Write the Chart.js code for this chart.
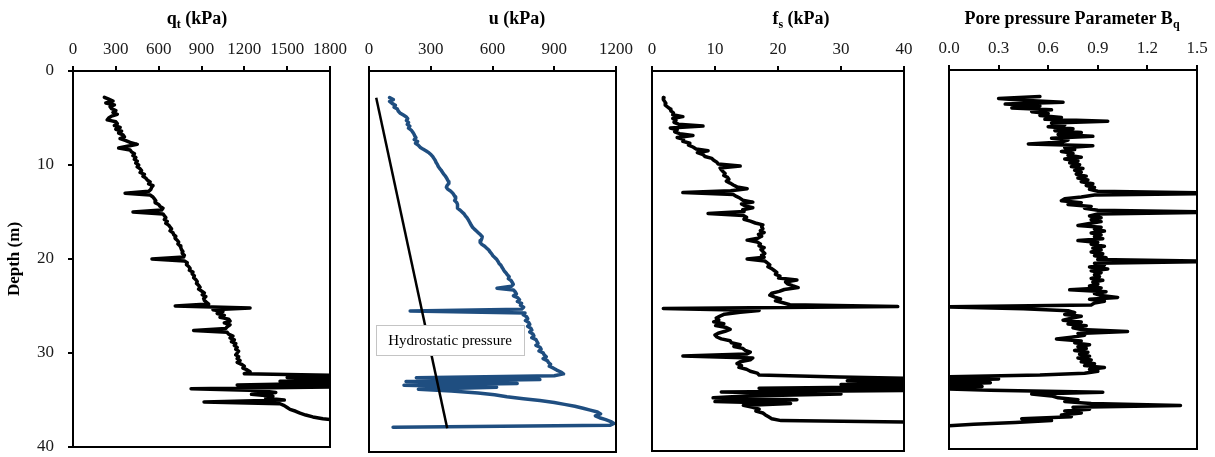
<!DOCTYPE html>
<html>
<head>
<meta charset="utf-8">
<title>CPT profiles</title>
<script src="https://cdn.jsdelivr.net/npm/chart.js@4.4.1/dist/chart.umd.min.js"></script>
<style>
  html, body { margin: 0; padding: 0; background: #fff; }
  #wrap { position: relative; width: 1215px; height: 457px; overflow: hidden; }
  #wrap canvas { position: absolute; left: 0; top: 0; }
</style>
</head>
<body>
<div id="wrap">
  <canvas id="cQt" width="1215" height="457"></canvas>
  <canvas id="cU" width="1215" height="457"></canvas>
  <canvas id="cFs" width="1215" height="457"></canvas>
  <canvas id="cBq" width="1215" height="457"></canvas>
</div>
<script>
// Sounding depths (m), one reading every 0.2 m
const depth = [
  2.8, 3.0, 3.2, 3.4, 3.6, 3.8, 4.0, 4.2, 4.4, 4.6,
  4.8, 5.0, 5.2, 5.4, 5.6, 5.8, 6.0, 6.2, 6.4, 6.6,
  6.8, 7.0, 7.2, 7.4, 7.6, 7.8, 8.0, 8.2, 8.4, 8.6,
  8.8, 9.0, 9.2, 9.4, 9.6, 9.8, 10.0, 10.2, 10.4, 10.6,
  10.8, 11.0, 11.2, 11.4, 11.6, 11.8, 12.0, 12.2, 12.4, 12.6,
  12.8, 13.0, 13.2, 13.4, 13.6, 13.8, 14.0, 14.2, 14.4, 14.6,
  14.8, 15.0, 15.2, 15.4, 15.6, 15.8, 16.0, 16.2, 16.4, 16.6,
  16.8, 17.0, 17.2, 17.4, 17.6, 17.8, 18.0, 18.2, 18.4, 18.6,
  18.8, 19.0, 19.2, 19.4, 19.6, 19.8, 20.0, 20.2, 20.4, 20.6,
  20.8, 21.0, 21.2, 21.4, 21.6, 21.8, 22.0, 22.2, 22.4, 22.6,
  22.8, 23.0, 23.2, 23.4, 23.6, 23.8, 24.0, 24.2, 24.4, 24.6,
  24.8, 25.0, 25.2, 25.4, 25.6, 25.8, 26.0, 26.2, 26.4, 26.6,
  26.8, 27.0, 27.2, 27.4, 27.6, 27.8, 28.0, 28.2, 28.4, 28.6,
  28.8, 29.0, 29.2, 29.4, 29.6, 29.8, 30.0, 30.2, 30.4, 30.6,
  30.8, 31.0, 31.2, 31.4, 31.6, 31.8, 32.0, 32.2, 32.4, 32.6,
  32.8, 33.0, 33.2, 33.4, 33.6, 33.8, 34.0, 34.2, 34.4, 34.6,
  34.8, 35.0, 35.2, 35.4, 35.6, 35.8, 36.0, 36.2, 36.4, 36.6,
  36.8, 37.0, 37.2, 37.4, 37.6, 37.8
];

// Corrected cone resistance qt (kPa)
const qt = [
  220, 250, 280, 230, 290, 260, 270, 300, 280, 310,
  270, 250, 240, 300, 310, 290, 330, 300, 340, 320,
  350, 360, 330, 370, 400, 450, 380, 320, 400, 410,
  430, 420, 440, 430, 450, 440, 460, 450, 470, 480,
  470, 500, 490, 510, 520, 540, 530, 560, 550, 545,
  530, 365, 540, 560, 570, 580, 575, 600, 610, 630,
  620, 420, 630, 640, 650, 640, 660, 650, 670, 680,
  690, 680, 700, 705, 720, 715, 730, 740, 735, 750,
  755, 760, 770, 765, 780, 775, 553, 780, 800, 795,
  810, 820, 815, 840, 835, 850, 845, 860, 870, 865,
  880, 890, 880, 900, 920, 905, 930, 915, 920, 935,
  950, 716, 1240, 980, 1050, 1010, 1060, 1030, 1090, 1100,
  1060, 1100, 1080, 1070, 845, 1080, 1090, 1120, 1100, 1130,
  1110, 1140, 1130, 1150, 1140, 1160, 1150, 1140, 1160, 1150,
  1170, 1150, 1180, 1200, 1190, 1220, 1240, 1200, 1900, 1500,
  1900, 1450, 1900, 1150, 1900, 827, 1300, 1420, 1250, 1400,
  1350, 1480, 918, 1450, 1480, 1500, 1520, 1560, 1590, 1630,
  1680, 1750, 1900, null, null, null
];

// Pore water pressure u (kPa)
const u = [
  100, 118, 100, 112, 128, 122, 138, 142, 150, 165,
  180, 188, 182, 192, 186, 198, 192, 205, 212, 218,
  222, 228, 220, 236, 226, 240, 248, 262, 278, 292,
  302, 310, 316, 322, 326, 332, 336, 342, 350, 356,
  362, 370, 376, 381, 386, 388, 380, 376, 382, 396,
  406, 412, 418, 421, 416, 426, 430, 428, 432, 442,
  452, 462, 468, 476, 482, 487, 492, 497, 503, 512,
  522, 532, 542, 550, 548, 544, 540, 548, 562, 572,
  582, 588, 596, 602, 612, 621, 627, 632, 641, 646,
  652, 657, 666, 672, 681, 677, 690, 696, 701, 692,
  622, 702, 711, 716, 702, 722, 731, 721, 741, 736,
  751, 742, 200, 758, 750, 766, 771, 760, 776, 781,
  771, 786, 791, 781, 796, 801, 791, 811, 816, 821,
  811, 831, 836, 826, 846, 851, 861, 846, 866, 872,
  882, 876, 896, 912, 932, 945, 900, 230, 830, 180,
  720, 170, 620, 240, 400, 530, 610, 670, 750, 830,
  900, 950, 1000, 1040, 1075, 1110, 1125, 1100, 1120, 1150,
  1175, 1190, 1170, 117, null, null
];

// Hydrostatic pressure line (kPa) between two depths
const hydroDepth = [2.8, 37.5];
const hydroU = [35, 380];

// Sleeve friction fs (kPa)
const fs = [
  1.9, 1.8, 2.0, 2.2, 2.1, 2.5, 2.9, 3.0, 3.4, 3.3,
  4.9, 3.3, 3.8, 3.5, 4.2, 8.1, 2.9, 4.0, 3.6, 4.4,
  6.5, 4.0, 5.0, 4.9, 6.0, 5.8, 6.5, 7.0, 8.9, 7.2,
  8.1, 8.4, 9.5, 9.8, 10.3, 10.5, 14.0, 10.8, 11.0, 11.3,
  11.6, 11.4, 12.0, 12.2, 11.8, 12.4, 12.9, 13.5, 15.1, 12.5,
  4.9, 12.9, 13.4, 14.0, 14.4, 16.0, 14.2, 14.8, 16.0, 14.4,
  14.6, 8.9, 14.5, 15.0, 14.6, 15.6, 16.4, 17.6, 17.4, 17.6,
  17.2, 17.8, 16.9, 17.4, 16.8, 15.1, 16.7, 17.2, 17.0, 17.8,
  17.3, 17.6, 17.9, 17.4, 17.8, 15.1, 17.9, 18.3, 18.7, 18.4,
  19.0, 19.4, 19.8, 19.6, 20.3, 20.1, 23.0, 21.2, 21.5, 22.3,
  23.2, 21.0, 20.2, 19.0, 18.7, 19.5, 20.4, 19.6, 20.8, 21.9,
  39.0, 1.8, 17.0, 14.0, 11.5, 10.8, 10.2, 10.6, 9.8, 11.4,
  10.1, 11.8, 12.4, 11.6, 10.5, 10.0, 10.3, 11.0, 12.4, 12.6,
  14.0, 13.0, 14.4, 14.8, 15.6, 15.0, 4.9, 16.0, 15.6, 14.0,
  13.5, 14.2, 13.8, 15.0, 15.6, 16.7, 17.0, 29.8, 45.0, 31.0,
  45.0, 30.0, 45.0, 17.0, 45.0, 11.0, 30.0, 15.0, 9.7, 23.0,
  10.0, 22.0, 14.5, 16.0, 17.0, 16.5, 17.6, 18.0, 18.5, 19.0,
  20.5, 45.0, null, null, null, null
];

// Pore pressure parameter Bq (-)
const bq = [
  0.55, 0.30, 0.45, 0.69, 0.34, 0.55, 0.38, 0.62, 0.50, 0.60,
  0.55, 0.68, 0.58, 0.96, 0.62, 0.70, 0.60, 0.75, 0.64, 0.80,
  0.66, 0.87, 0.62, 0.72, 0.68, 0.48, 0.87, 0.70, 0.76, 0.68,
  0.75, 0.72, 0.80, 0.70, 0.78, 0.73, 0.79, 0.74, 0.81, 0.76,
  0.80, 0.77, 0.83, 0.78, 0.84, 0.80, 0.87, 0.83, 0.88, 0.85,
  0.90, 1.70, 0.88, 0.80, 0.70, 0.68, 0.80, 0.72, 0.86, 0.82,
  0.90, 1.70, 0.90, 0.85, 0.92, 0.86, 0.92, 0.85, 0.78, 0.92,
  0.88, 0.94, 0.86, 0.92, 0.88, 0.93, 0.78, 0.90, 0.86, 0.94,
  0.87, 0.92, 0.86, 0.93, 0.88, 0.95, 0.90, 1.70, 0.88, 0.94,
  0.85, 0.96, 0.86, 0.92, 0.88, 0.91, 0.86, 0.93, 0.87, 0.90,
  0.85, 0.92, 0.73, 0.95, 0.88, 0.92, 1.02, 0.85, 0.94, 0.88,
  0.86, -0.05, 0.45, 0.72, 0.76, 0.70, 0.80, 0.74, 0.69, 0.80,
  0.72, 0.83, 0.75, 0.80, 1.08, 0.78, 0.82, 0.74, 0.65, 0.80,
  0.76, 0.85, 0.78, 0.83, 0.76, 0.84, 0.79, 0.85, 0.78, 0.86,
  0.80, 0.88, 0.82, 0.94, 0.85, 0.90, 0.82, 0.55, -0.10, 0.30,
  -0.10, 0.25, -0.10, 0.20, -0.10, 0.25, 0.93, 0.50, 0.62, 0.66,
  0.78, 0.70, 0.86, 1.40, 0.75, 0.85, 0.70, 0.80, 0.68, 0.74,
  0.44, 0.62, 0.40, 0.15, -0.05, null
];

// Axis ticks
const depthTicks = [0, 10, 20, 30, 40];
const qtTicks = [0, 300, 600, 900, 1200, 1500, 1800];
const uTicks = [0, 300, 600, 900, 1200];
const fsTicks = [0, 10, 20, 30, 40];
const bqTicks = [0.0, 0.3, 0.6, 0.9, 1.2, 1.5];

const PAGE_W = 1215, PAGE_H = 457;
const SERIF = "'Liberation Serif', 'Times New Roman', serif";

function series(values) {
  const pts = [];
  values.forEach((v, i) => { if (v !== null) pts.push({ x: v, y: depth[i] }); });
  return pts;
}

// Frame, heading (with subscript) and optional callout for every panel
const panelDecor = {
  id: 'panelDecor',
  afterDatasetsDraw(chart) {
    const cfg = chart.options.plugins.panelDecor;
    const a = chart.chartArea;
    const ctx = chart.ctx;
    ctx.save();
    if (cfg.note) {
      const n = cfg.note;
      ctx.fillStyle = '#fff';
      ctx.fillRect(n.x, n.y, n.w, n.h);
      ctx.strokeStyle = '#c4c4c4';
      ctx.lineWidth = 1;
      ctx.strokeRect(n.x + 0.5, n.y + 0.5, n.w, n.h);
      ctx.fillStyle = '#000';
      ctx.font = '15px ' + SERIF;
      ctx.textAlign = 'center';
      ctx.textBaseline = 'middle';
      ctx.fillText(n.text, n.x + n.w / 2, n.y + n.h / 2 + 1);
    }
    ctx.strokeStyle = '#000';
    ctx.lineWidth = 2;
    ctx.strokeRect(a.left, a.top, a.right - a.left, a.bottom - a.top);
    ctx.restore();
  },
  afterDraw(chart) {
    const cfg = chart.options.plugins.panelDecor;
    const ctx = chart.ctx;
    ctx.save();
    ctx.fillStyle = '#000';
    ctx.textBaseline = 'alphabetic';
    ctx.textAlign = 'left';
    const mainFont = 'bold 18px ' + SERIF;
    const subFont = 'bold 12px ' + SERIF;
    let total = 0;
    cfg.title.forEach(([t, sub]) => { ctx.font = sub ? subFont : mainFont; total += ctx.measureText(t).width; });
    let x = cfg.titleX - total / 2;
    cfg.title.forEach(([t, sub]) => {
      ctx.font = sub ? subFont : mainFont;
      ctx.fillText(t, x, sub ? 28 : 24);
      x += ctx.measureText(t).width;
    });
    ctx.restore();
  }
};

function makePanel(p) {
  const datasets = [{
    data: series(p.values),
    showLine: true,
    borderColor: p.color,
    borderWidth: 3.5,
    borderJoinStyle: 'round',
    borderCapStyle: 'round',
    pointRadius: 0,
    spanGaps: false,
    order: 2
  }];
  if (p.extra) datasets.push(p.extra);

  const yScale = {
    type: 'linear',
    display: p.showDepth,
    reverse: true,
    min: 0,
    max: 40,
    afterBuildTicks: s => { s.ticks = depthTicks.map(v => ({ value: v })); },
    grid: { drawOnChartArea: false, color: '#000', lineWidth: 2, tickLength: 5 },
    border: { display: false },
    title: {
      display: true,
      text: 'Depth (m)',
      font: { family: SERIF, size: 17, weight: 'bold' },
      color: '#000',
      padding: { top: 4, bottom: 0 }
    },
    ticks: {
      font: { family: SERIF, size: 17 },
      color: '#1a1a1a',
      padding: 14,
      autoSkip: false
    }
  };
  if (p.showDepth) {
    yScale.afterFit = s => {
      s.width = p.area.l;
      s.paddingTop = 0;
      s.paddingBottom = 0;
    };
  }

  new Chart(document.getElementById(p.id), {
    type: 'scatter',
    data: { datasets },
    options: {
      responsive: false,
      animation: false,
      devicePixelRatio: 1,
      events: [],
      layout: {
        padding: {
          left: p.showDepth ? 0 : p.area.l,
          right: PAGE_W - p.area.r,
          top: 0,
          bottom: PAGE_H - p.area.b
        }
      },
      plugins: {
        legend: { display: false },
        tooltip: { enabled: false },
        panelDecor: { title: p.title, titleX: p.titleX, note: p.note }
      },
      scales: {
        x: {
          type: 'linear',
          position: 'top',
          min: p.ticks[0],
          max: p.ticks[p.ticks.length - 1],
          afterBuildTicks: s => { s.ticks = p.ticks.map(v => ({ value: v })); },
          afterFit: s => {
            s.height = p.area.t;
            s.paddingLeft = 0;
            s.paddingRight = 0;
          },
          grid: { drawOnChartArea: false, color: '#000', lineWidth: 2, tickLength: 5 },
          border: { display: false },
          ticks: {
            font: { family: SERIF, size: 17 },
            color: '#1a1a1a',
            padding: 6,
            maxRotation: 0,
            autoSkip: false,
            callback: v => v.toFixed(p.decimals)
          }
        },
        y: yScale
      }
    },
    plugins: [panelDecor]
  });
}

makePanel({
  id: 'cQt', values: qt, color: '#000', ticks: qtTicks, decimals: 0, showDepth: true,
  area: { l: 73, r: 330, t: 71, b: 447 },
  title: [['q', 0], ['t', 1], [' (kPa)', 0]], titleX: 197
});

makePanel({
  id: 'cU', values: u, color: '#1f4e80', ticks: uTicks, decimals: 0, showDepth: false,
  area: { l: 369, r: 616, t: 71, b: 452 },
  title: [['u (kPa)', 0]], titleX: 517,
  extra: {
    data: hydroDepth.map((d, i) => ({ x: hydroU[i], y: d })),
    showLine: true, borderColor: '#000', borderWidth: 2.5, pointRadius: 0, order: 1
  },
  note: { text: 'Hydrostatic pressure', x: 376, y: 325, w: 148, h: 30 }
});

makePanel({
  id: 'cFs', values: fs, color: '#000', ticks: fsTicks, decimals: 0, showDepth: false,
  area: { l: 652, r: 904, t: 71, b: 451 },
  title: [['f', 0], ['s', 1], [' (kPa)', 0]], titleX: 801
});

makePanel({
  id: 'cBq', values: bq, color: '#000', ticks: bqTicks, decimals: 1, showDepth: false,
  area: { l: 949, r: 1197, t: 70, b: 449 },
  title: [['Pore pressure Parameter B', 0], ['q', 1]], titleX: 1072
});
</script>
</body>
</html>
